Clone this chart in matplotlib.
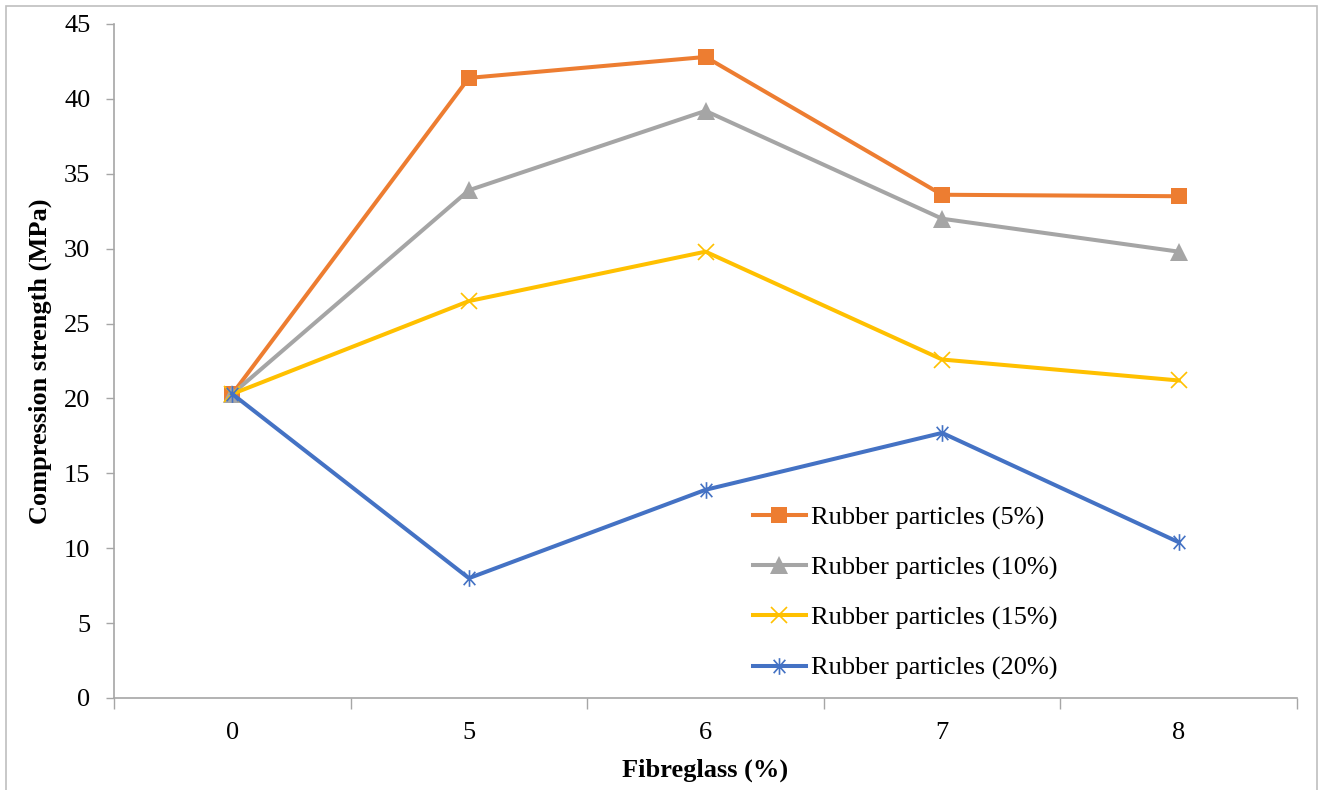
import matplotlib
matplotlib.use('Agg')
import numpy as np
import matplotlib.pyplot as plt
from matplotlib.path import Path
from matplotlib.patches import Rectangle

plt.rcParams['font.family'] = ['Liberation Serif', 'DejaVu Serif']

fibreglass = ['0', '5', '6', '7', '8']
rubber_5 = [20.3, 41.4, 42.8, 33.6, 33.5]
rubber_10 = [20.3, 33.9, 39.2, 32.0, 29.8]
rubber_15 = [20.3, 26.5, 29.8, 22.6, 21.2]
rubber_20 = [20.3, 8.0, 13.9, 17.7, 10.4]
labels = ['Rubber particles (5%)', 'Rubber particles (10%)',
          'Rubber particles (15%)', 'Rubber particles (20%)']

# asterisk marker: vertical bar plus an x
star = Path([(0, -1), (0, 1), (-0.7, -0.8), (0.7, 0.8), (-0.7, 0.8), (0.7, -0.8)],
            [Path.MOVETO, Path.LINETO, Path.MOVETO, Path.LINETO, Path.MOVETO, Path.LINETO])

fig = plt.figure(figsize=(13.22, 7.90), dpi=100)
fig.patches.append(Rectangle((6/1322, -0.01), 1311/1322, 1 - 6/790 + 0.01, transform=fig.transFigure,
                             fill=False, edgecolor='#bfbfbf', linewidth=1.2))
ax = fig.add_axes([114/1322, 92/790, 1183/1322, 674/790])

x = np.arange(len(fibreglass))
styles = [
    dict(color='#ED7D31', marker='s', markersize=12, markeredgewidth=0),
    dict(color='#A5A5A5', marker='^', markersize=13, markeredgewidth=0),
    dict(color='#FFC000', marker='x', markersize=11, markeredgewidth=1.2),
    dict(color='#4472C4', marker=star, markersize=12, markeredgewidth=1.2, markerfacecolor='none'),
]
for vals, lab, st in zip([rubber_5, rubber_10, rubber_15, rubber_20], labels, styles):
    ax.plot(x, vals, linewidth=2.9, label=lab, clip_on=False, **st)

ax.set_xlim(-0.5, len(fibreglass) - 0.5)
ax.set_ylim(0, 45)
ax.set_yticks(np.arange(0, 46, 5))
ax.set_xticks(np.arange(-0.5, len(fibreglass), 1.0))
ax.set_xticklabels([])
ax.set_xticks(x, minor=True)
ax.set_xticklabels(fibreglass, minor=True)
ax.tick_params(axis='x', which='major', length=8, color='#a6a6a6', width=1)
ax.tick_params(axis='x', which='minor', length=0, labelsize=19, pad=17)
ax.tick_params(axis='y', length=6, color='#a6a6a6', width=1, labelsize=19, pad=11)

for s in ['top', 'right']:
    ax.spines[s].set_visible(False)
for s in ['left', 'bottom']:
    ax.spines[s].set_color('#a6a6a6')
    ax.spines[s].set_linewidth(1.2)

ax.set_xlabel('Fibreglass (%)', fontsize=19, fontweight='bold', labelpad=11)
ax.set_ylabel('Compression strength (MPa)', fontsize=19, fontweight='bold', labelpad=9)

ax.legend(loc='upper left', bbox_to_anchor=(0.531, 0.301), frameon=False, fontsize=19,
          handlelength=2.0, handletextpad=0.2, labelspacing=1.0, borderaxespad=0)

plt.savefig('out.png', dpi=100)
